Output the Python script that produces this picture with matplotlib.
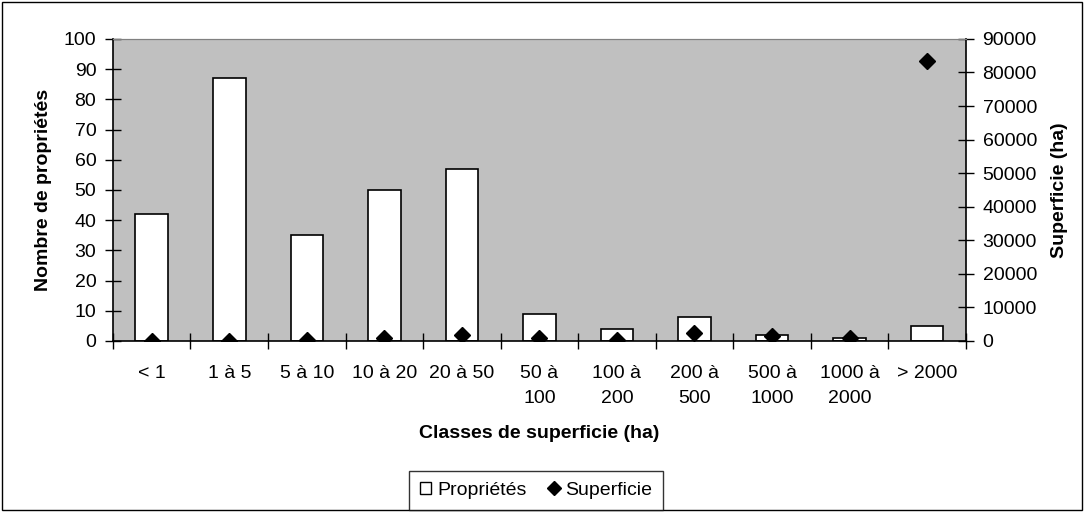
import matplotlib.pyplot as plt
from matplotlib.lines import Line2D
from matplotlib.patches import Patch, Rectangle

plt.rcParams['font.family'] = ['Liberation Sans', 'DejaVu Sans']

# Classes de superficie (ha)
classes = ['< 1', '1 à 5', '5 à 10', '10 à 20', '20 à 50', '50 à\n100',
           '100 à\n200', '200 à\n500', '500 à\n1000', '1000 à\n2000', '> 2000']
# Nombre de propriétés par classe
proprietes = [42, 87, 35, 50, 57, 9, 4, 8, 2, 1, 5]
# Superficie totale par classe (ha)
superficie = [50, 100, 250, 1000, 1900, 800, 300, 2300, 1500, 800, 83400]

fig = plt.figure(figsize=(10.84, 5.12), dpi=100)
fig.patches.append(Rectangle((0.002, 0.003), 0.996, 0.994, transform=fig.transFigure,
                             fill=False, edgecolor='black', linewidth=1))

ax = fig.add_axes([0.1042, 0.334, 0.7868, 0.590])
ax.set_facecolor('#C0C0C0')
x = range(len(classes))
ax.bar(x, proprietes, width=0.42, color='white', edgecolor='black', linewidth=1.2, zorder=2)
ax.set_xlim(-0.5, len(classes) - 0.5)
ax.set_ylim(0, 100)
ax.set_yticks(range(0, 101, 10))
ax.set_ylabel('Nombre de propriétés', fontsize=14, fontweight='bold', va='center')
ax.yaxis.set_label_coords(-0.081, 0.5)
ax.set_xlabel('Classes de superficie (ha)', fontsize=14, fontweight='bold')
ax.xaxis.set_label_coords(0.5, -0.278)

# ticks between categories, labels centred under the bars
ax.set_xticks([i + 0.5 for i in range(-1, len(classes))])
ax.set_xticklabels([])
ax.set_xticks(list(x), minor=True)
ax.set_xticklabels(classes, minor=True, fontsize=14, va='top', linespacing=1.65)
ax.tick_params(axis='x', which='major', direction='inout', length=12, width=1)
ax.tick_params(axis='x', which='minor', length=0, pad=17)
ax.tick_params(axis='y', direction='inout', length=12, width=1, labelsize=14, pad=6)

for side in ['left', 'bottom']:
    ax.spines[side].set_color('black')
    ax.spines[side].set_linewidth(1.2)
ax.spines['top'].set_color('#808080')
ax.spines['right'].set_visible(False)

ax2 = ax.twinx()
ax2.plot(list(x), superficie, linestyle='none', marker='D', markersize=8.2,
         color='black', zorder=3)
ax2.set_ylim(0, 90000)
ax2.set_yticks(range(0, 90001, 10000))
ax2.tick_params(axis='y', direction='inout', length=12, width=1, labelsize=14, pad=6)
ax2.set_ylabel('Superficie (ha)', fontsize=14, fontweight='bold', va='center')
ax2.yaxis.set_label_coords(1.11, 0.5)
ax2.spines['right'].set_color('black')
ax2.spines['right'].set_linewidth(1.2)
ax2.spines['top'].set_color('#808080')
ax2.spines['left'].set_visible(False)
ax2.spines['bottom'].set_visible(False)

handles = [Patch(facecolor='white', edgecolor='black', label='Propriétés'),
           Line2D([], [], linestyle='none', marker='D', markersize=7, color='black',
                  label='Superficie')]
leg = fig.legend(handles=handles, loc='center', bbox_to_anchor=(0.4945, 0.042), ncol=2,
                 fontsize=14, frameon=True, fancybox=False, edgecolor='black',
                 handlelength=0.6, handleheight=0.6, handletextpad=0.3, columnspacing=1.1,
                 borderpad=0.55, borderaxespad=0)
leg.get_frame().set_linewidth(1)

fig.savefig('out.png', dpi=100)
